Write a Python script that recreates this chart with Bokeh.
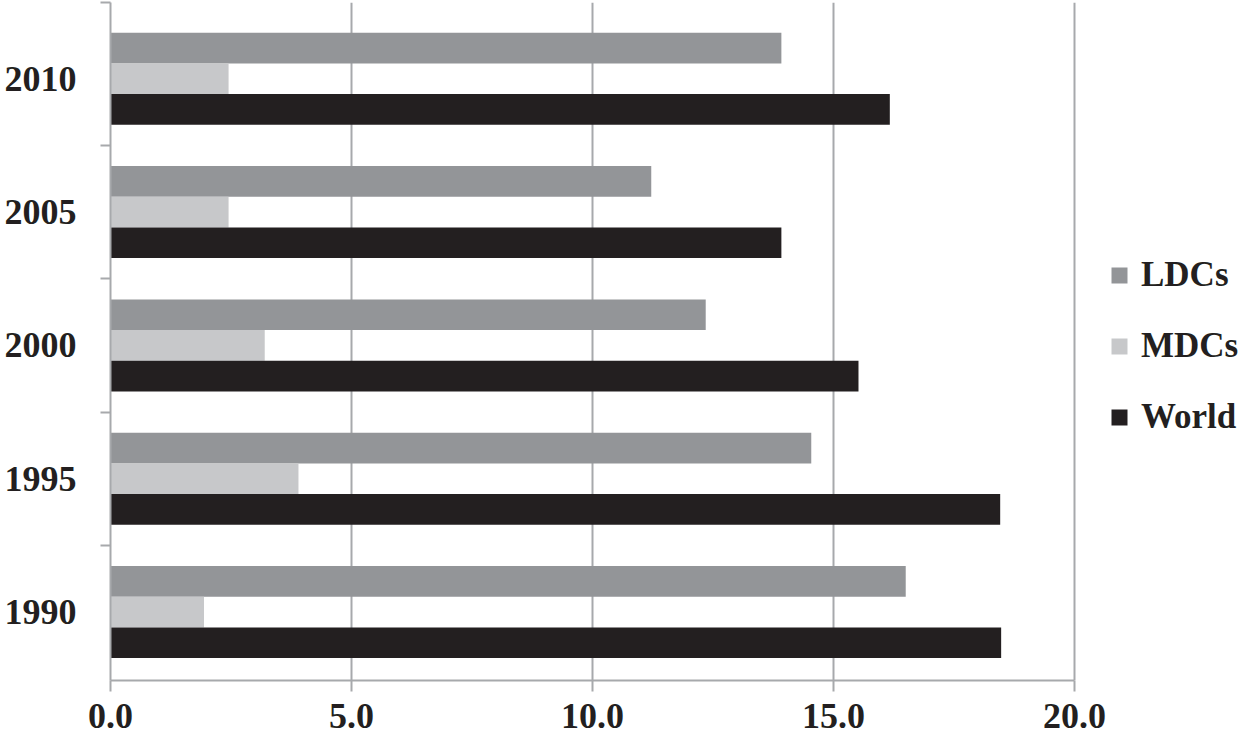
from bokeh.plotting import figure
from bokeh.models import ColumnDataSource, FixedTicker, NumeralTickFormatter, Legend, LegendItem, Range1d
from bokeh.transform import dodge
from bokeh.embed import file_html
from bokeh.resources import INLINE

years = ["1990", "1995", "2000", "2005", "2010"]
ldcs = [16.5, 14.54, 12.35, 11.22, 13.92]
mdcs = [1.94, 3.9, 3.2, 2.45, 2.45]
world = [18.48, 18.46, 15.52, 13.92, 16.17]
x_ticks = [0, 5, 10, 15, 20]

idx = list(range(len(years)))
src = ColumnDataSource(dict(idx=idx, ldcs=ldcs, mdcs=mdcs, world=world))

FONT = "Liberation Serif"
TXT = "#231f20"
GRAY = "#a7a9ac"

Y0, Y1 = -0.513, 4.572
# frame spans 0..20 over 964px; extra room on the right holds the legend
p = figure(frame_width=1135, frame_height=678, output_backend="svg", toolbar_location=None,
           x_range=Range1d(0, 23.55), y_range=Range1d(Y0, Y1),
           min_border_left=110, min_border_right=0, min_border_top=2, min_border_bottom=0)
p.outline_line_color = None
p.background_fill_color = "white"

bh = 0.23
r1 = p.hbar(y=dodge("idx", 0.23, range=p.y_range), right="ldcs", left=0, height=bh,
            source=src, fill_color="#939598", line_color=None)
r2 = p.hbar(y=dodge("idx", 0.0, range=p.y_range), right="mdcs", left=0, height=bh,
            source=src, fill_color="#c7c8ca", line_color=None)
r3 = p.hbar(y=dodge("idx", -0.23, range=p.y_range), right="world", left=0, height=bh,
            source=src, fill_color="#231f20", line_color=None)

# x axis
p.xaxis.ticker = FixedTicker(ticks=x_ticks)
p.xaxis.bounds = (x_ticks[0], x_ticks[-1])
p.xaxis.formatter = NumeralTickFormatter(format="0.0")
p.xaxis.major_tick_out = 11
p.xaxis.major_tick_in = 0
p.xaxis.minor_tick_line_color = None
p.xaxis.axis_line_color = GRAY
p.xaxis.axis_line_width = 2
p.xaxis.major_tick_line_color = GRAY
p.xaxis.major_tick_line_width = 2
p.xaxis.major_label_text_font = FONT
p.xaxis.major_label_text_font_style = "bold"
p.xaxis.major_label_text_font_size = "36px"
p.xaxis.major_label_text_color = TXT
p.xaxis.major_label_standoff = 12

p.xgrid.ticker = FixedTicker(ticks=x_ticks)
p.xgrid.grid_line_color = GRAY
p.xgrid.grid_line_width = 2
p.ygrid.grid_line_color = None

# y axis
p.yaxis.ticker = FixedTicker(ticks=idx, minor_ticks=[0.5, 1.5, 2.5, 3.5, Y1])
p.yaxis.major_label_overrides = {i: y for i, y in zip(idx, years)}
p.yaxis.major_tick_out = 0
p.yaxis.major_tick_in = 0
p.yaxis.major_tick_line_color = None
p.yaxis.minor_tick_out = 10
p.yaxis.minor_tick_in = 0
p.yaxis.minor_tick_line_color = GRAY
p.yaxis.minor_tick_line_width = 2
p.yaxis.axis_line_color = GRAY
p.yaxis.axis_line_width = 2
p.yaxis.major_label_text_font = FONT
p.yaxis.major_label_text_font_style = "bold"
p.yaxis.major_label_text_font_size = "36px"
p.yaxis.major_label_text_color = TXT
p.yaxis.major_label_standoff = 24

legend = Legend(items=[LegendItem(label="LDCs", renderers=[r1]),
                       LegendItem(label="MDCs", renderers=[r2]),
                       LegendItem(label="World", renderers=[r3])],
                location=(999, 243))
legend.label_text_font = FONT
legend.label_text_font_style = "bold"
legend.label_text_font_size = "35px"
legend.label_text_color = TXT
legend.glyph_width = 20
legend.glyph_height = 20
legend.label_standoff = 12
legend.spacing = 31
legend.padding = 4
legend.margin = 0
legend.border_line_color = None
legend.background_fill_alpha = 0
p.add_layout(legend, "center")

open("out.html", "w").write(file_html(p, INLINE))
